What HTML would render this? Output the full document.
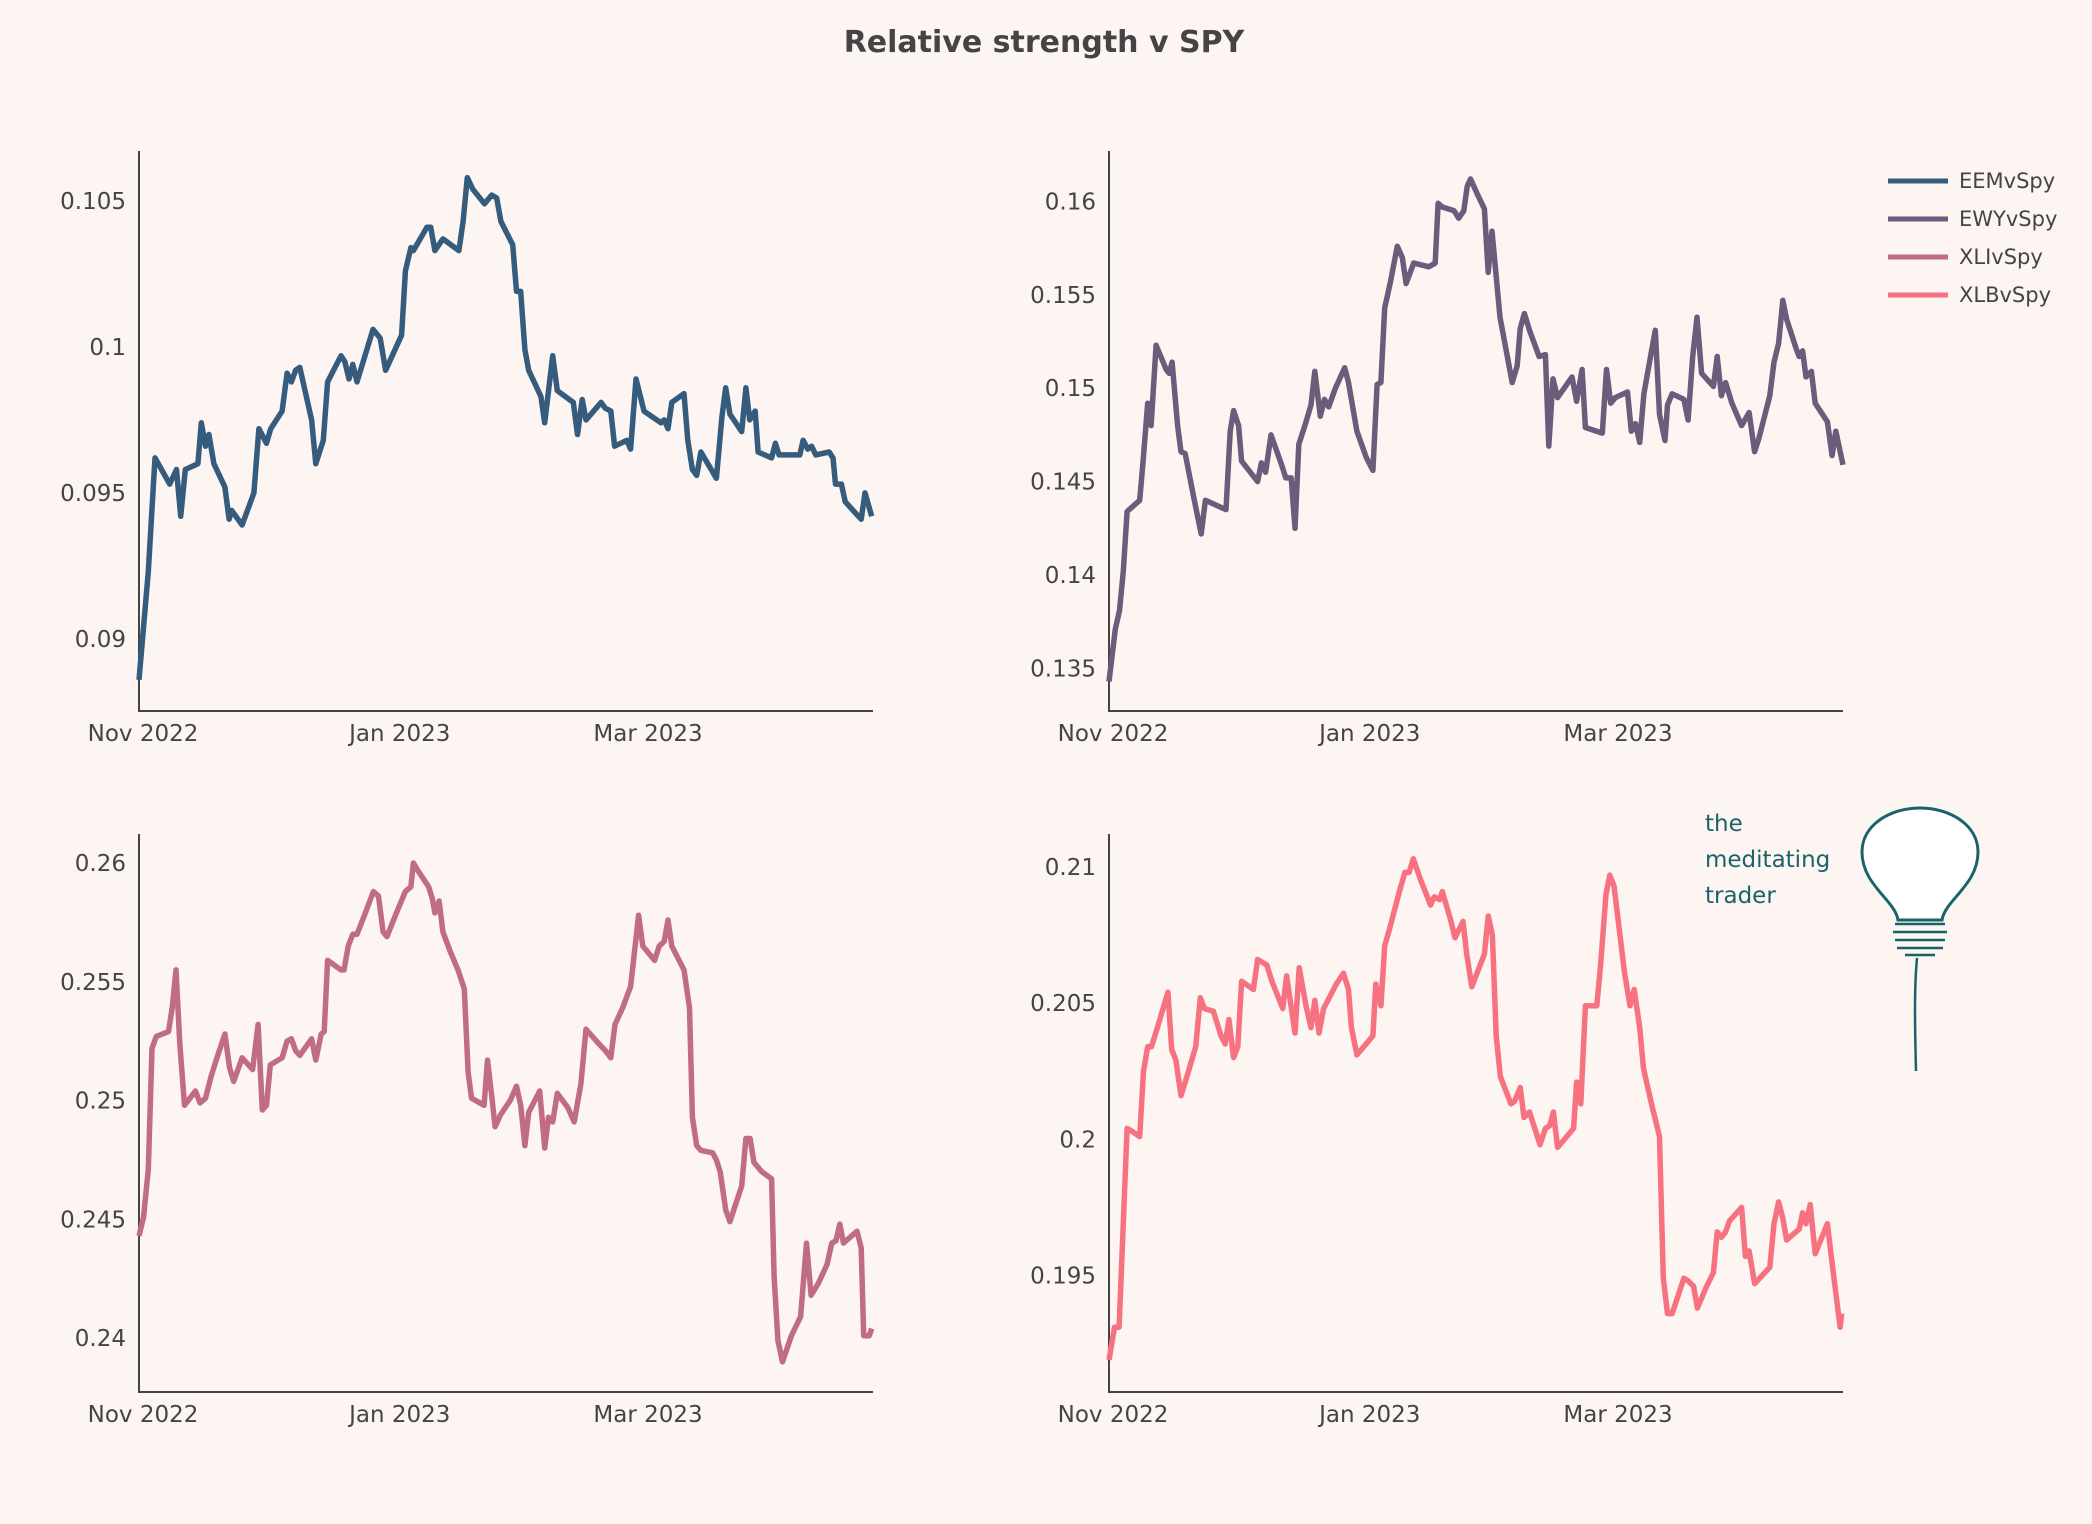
<!DOCTYPE html>
<html><head><meta charset="utf-8"><style>
html,body{margin:0;padding:0;background:#fdf5f2;}
svg{display:block;font-family:"DejaVu Sans","Liberation Sans",sans-serif;}
</style></head><body>
<svg id="chart" width="2092" height="1524" viewBox="0 0 2092 1524">
<rect x="0" y="0" width="2092" height="1524" fill="#fdf5f2"/>
<text x="1044" y="52" text-anchor="middle" font-size="30" font-weight="bold" fill="#444">Relative strength v SPY</text>
<g>
 <g><line x1="1888" y1="181" x2="1948" y2="181" stroke="#355c7d" stroke-width="5"/><text x="1959" y="188" font-size="21" fill="#444">EEMvSpy</text></g>
 <g><line x1="1888" y1="219" x2="1948" y2="219" stroke="#6c5b7b" stroke-width="5"/><text x="1959" y="226" font-size="21" fill="#444">EWYvSpy</text></g>
 <g><line x1="1888" y1="257" x2="1948" y2="257" stroke="#c06c84" stroke-width="5"/><text x="1959" y="264" font-size="21" fill="#444">XLIvSpy</text></g>
 <g><line x1="1888" y1="295" x2="1948" y2="295" stroke="#f67280" stroke-width="5"/><text x="1959" y="302" font-size="21" fill="#444">XLBvSpy</text></g>
</g>
<g>
 <text x="1705" y="831" font-size="23" fill="#1b636b">the</text>
 <text x="1705" y="867" font-size="23" fill="#1b636b">meditating</text>
 <text x="1705" y="903" font-size="23" fill="#1b636b">trader</text>
 <g fill="none" stroke="#1b636b" stroke-width="3">
  <path d="M1898,920 C1895,900 1862,885 1862,852 C1862,825 1890,808 1920,808 C1950,808 1978,825 1978,852 C1978,885 1945,900 1942,920 Z" fill="#ffffff"/>
  <path d="M1895,924 H1945 M1893,932 H1947 M1895,940 H1945 M1897,948 H1943 M1905,955 H1935" stroke-width="2.5"/>
  <path d="M1917,958 C1914,990 1915,1030 1916,1071" stroke-width="2.5"/>
 </g>
</g>
</svg>
<script>
// ---- data (day offsets from 2022-11-01, values) ----
const xTickLabels = ["Nov 2022", "Jan 2023", "Mar 2023"];
const xTickDays = [0, 61, 120];

const eemDays = [0,2.2,3.8,7.3,8.9,9.9,11,14,14.8,15.8,16.6,17.8,20.4,21.4,22,24.5,27.3,28.5,30.3,31.3,34,35.2,36.2,37.2,38.2,41,42,43.8,44.8,48,48.9,49.9,50.8,51.8,55.6,57.3,58.6,62.4,63.3,64.6,65.2,68.4,69.3,70.3,72.2,76,77,78,79.3,82.1,83.8,85,86,88.8,89.7,90.7,91.7,92.6,95.5,96.4,98.3,99.4,103.2,104.2,105.3,106.2,109.8,110.8,112.1,113,115.9,116.8,118.1,120,124,124.8,125.7,126.6,129.5,130.4,131.5,132.5,133.5,137.2,138.5,139.4,140.4,143.2,144.2,145.1,146.4,147.1,150.3,151.2,152.1,157,157.8,158.9,159.8,160.8,164,164.9,165.5,166.9,167.8,170.3,171.6,172.5,174.1];
const eemValues = [.0886,.0923,.0962,.0953,.0958,.0942,.0958,.0960,.0974,.0966,.0970,.0960,.0952,.0941,.0944,.0939,.0950,.0972,.0967,.0972,.0978,.0991,.0988,.0992,.0993,.0975,.0960,.0968,.0988,.0997,.0995,.0989,.0994,.0988,.1006,.1003,.0992,.1004,.1026,.1034,.1033,.1041,.1041,.1033,.1037,.1033,.1043,.1058,.1054,.1049,.1052,.1051,.1043,.1035,.1019,.1019,.0999,.0992,.0983,.0974,.0997,.0985,.0981,.0970,.0982,.0975,.0981,.0979,.0978,.0966,.0968,.0965,.0989,.0978,.0974,.0975,.0972,.0981,.0984,.0968,.0958,.0956,.0964,.0955,.0976,.0986,.0977,.0971,.0986,.0975,.0978,.0964,.0962,.0967,.0963,.0963,.0968,.0965,.0966,.0963,.0964,.0962,.0953,.0953,.0947,.0943,.0941,.0950,.0942];
const eemTicks = [0.09, 0.095, 0.1, 0.105];
const eemTickLabels = ["0.09", "0.095", "0.1", "0.105"];

const ewyDays = [0,1.5,2.5,3.4,4.3,7.3,8.1,9.2,10,11.2,13.6,14.3,15,16.3,17.1,18.1,20,21.9,22.9,27.8,28.8,29.6,30.8,31.5,35.3,36.2,37.2,38.5,41,42,43.3,44.2,45.1,46.7,48,48.9,50.2,51.2,52.2,53.8,56,56.9,58.9,61.1,62.7,63.7,64.6,65.5,66.8,68.5,69.7,70.6,72.4,76,77.5,78.2,79.2,82,83.1,84.3,85.1,85.9,87.5,89.2,90.1,91,92.9,95.8,97,97.7,98.7,99.9,102.2,103.7,104.5,105.5,106.6,110,111.1,112.4,113.2,117.2,118.2,119.2,120.3,123.2,124.1,125.1,126.1,127.1,128.6,129.8,130.8,132.1,132.7,133.8,136.6,137.6,138.7,139.7,140.8,143.6,144.5,145.5,146.5,148,150.3,152.1,153.4,154.4,157,158,159.1,160.1,161,163.3,164,164.8,165.6,166.9,167.8,170.7,171.8,172.7,174.4];
const ewyValues = [.1343,.1371,.1381,.1402,.1434,.1440,.1461,.1492,.1480,.1523,.1510,.1508,.1514,.1480,.1466,.1465,.1443,.1422,.1440,.1435,.1477,.1488,.1480,.1461,.1450,.1460,.1455,.1475,.1459,.1452,.1452,.1425,.1470,.1481,.1491,.1509,.1485,.1494,.1490,.1500,.1511,.1503,.1477,.1463,.1456,.1502,.1503,.1543,.1556,.1576,.1570,.1556,.1567,.1565,.1567,.1599,.1597,.1595,.1591,.1595,.1608,.1612,.1604,.1596,.1562,.1584,.1538,.1503,.1512,.1532,.1540,.1531,.1517,.1518,.1469,.1505,.1495,.1506,.1493,.1510,.1479,.1476,.1510,.1492,.1495,.1498,.1477,.1481,.1471,.1497,.1516,.1531,.1486,.1472,.1491,.1497,.1494,.1483,.1517,.1538,.1508,.1501,.1517,.1496,.1503,.1492,.1480,.1487,.1466,.1473,.1496,.1514,.1524,.1547,.1537,.1521,.1517,.1520,.1506,.1509,.1492,.1482,.1464,.1477,.1459];
const ewyTicks = [0.135, 0.14, 0.145, 0.15, 0.155, 0.16];
const ewyTickLabels = ["0.135", "0.14", "0.145", "0.15", "0.155", "0.16"];

const xliDays = [0,1.1,2.2,3.1,4.1,7,7.9,8.8,9.7,10.8,13.4,14.5,15.8,17.1,18.7,20.4,21.5,22.5,24.5,27,28.3,29.3,30.3,31.2,34,35.2,36.2,37.2,38.2,41,42,43.3,44,44.8,48,48.7,49.7,50.8,51.8,54,55.7,56.9,58,58.9,61.4,63.3,64.6,65.2,66.2,68.8,69.7,70.3,71.3,72.2,73.9,75.8,77.3,78.2,79,82,82.8,83.8,84.6,85.9,88.2,89.7,90.7,91.7,92.6,95.2,96.4,97.3,98.3,99.4,101.9,103.4,105,106.2,109.2,110.8,112.1,113.1,114.9,116.8,118.7,119.7,122.5,123.6,124.8,125.7,126.6,129.5,130.8,131.5,132.5,133.5,136.3,137.2,138.1,139.4,140.4,143.2,144.2,145.2,146.1,148,150.3,150.9,151.8,152.9,155,157.2,158.6,159.7,161.4,163.5,164.6,165.6,166.5,167.4,170.6,171.6,172.2,173.5,174.1];
const xliValues = [.2443,.2451,.2471,.2522,.2527,.2529,.2539,.2555,.2524,.2498,.2504,.2499,.2501,.2510,.2519,.2528,.2514,.2508,.2518,.2513,.2532,.2496,.2498,.2515,.2518,.2525,.2526,.2521,.2519,.2526,.2517,.2528,.2529,.2559,.2555,.2555,.2565,.2570,.2570,.2580,.2588,.2586,.2571,.2569,.2580,.2588,.2590,.2600,.2597,.2590,.2585,.2579,.2584,.2571,.2563,.2555,.2547,.2512,.2501,.2498,.2517,.2502,.2489,.2494,.2500,.2506,.2498,.2481,.2495,.2504,.2480,.2493,.2491,.2503,.2497,.2491,.2507,.2530,.2524,.2521,.2518,.2532,.2539,.2548,.2578,.2565,.2559,.2565,.2567,.2576,.2565,.2555,.2539,.2493,.2481,.2479,.2478,.2475,.2470,.2454,.2449,.2464,.2484,.2484,.2474,.2470,.2467,.2426,.2399,.2390,.2401,.2409,.2440,.2418,.2423,.2431,.2440,.2441,.2448,.2440,.2445,.2438,.2401,.2401,.2404];
const xliTicks = [0.24, 0.245, 0.25, 0.255, 0.26];
const xliTickLabels = ["0.24", "0.245", "0.25", "0.255", "0.26"];

const xlbDays = [0,1.3,2.4,4.3,5.4,7.3,8.2,9.2,10.1,11.7,14,14.9,15.9,17.1,18.7,20.6,21.7,22.7,24.8,26.6,27.6,28.5,29.6,30.6,31.5,34.3,35.3,37.5,38.7,41.3,42.2,44.2,45.2,46.8,48,48.9,49.9,51,54,55.7,56.9,57.6,58.9,62.7,63.4,64.6,65.5,66.8,69,70.3,71.3,72.3,74.1,75.4,76.4,77.3,78.6,79.2,81.1,82.2,84.1,85,86.2,89.2,90.1,91.1,92,93,95.5,96.4,97.7,98.6,99.9,102.4,103.7,104.7,105.6,106.6,110.4,111.1,112.1,113.2,115.9,116.8,118.1,119,120,122.5,123.8,124.8,126.1,127,128.9,130.8,131.7,132.7,133.8,136.6,137.6,138.9,139.8,142,143.6,144.5,145.5,146.5,147.4,150.3,151.2,152.1,153.4,157,158,159.1,160.1,161,164,164.8,165.6,166.6,167.8,170.7,171.7,173.7,174.1];
const xlbValues = [.1919,.1931,.1931,.2004,.2003,.2001,.2025,.2034,.2034,.2042,.2054,.2033,.2029,.2016,.2024,.2034,.2052,.2048,.2047,.2038,.2035,.2044,.2030,.2034,.2058,.2055,.2066,.2064,.2058,.2048,.2060,.2039,.2063,.2049,.2041,.2051,.2039,.2048,.2057,.2061,.2055,.2041,.2031,.2038,.2057,.2049,.2071,.2078,.2091,.2098,.2098,.2103,.2095,.2090,.2086,.2089,.2088,.2091,.2081,.2074,.2080,.2068,.2056,.2068,.2082,.2075,.2038,.2023,.2013,.2014,.2019,.2008,.2010,.1998,.2004,.2005,.2010,.1997,.2004,.2021,.2013,.2049,.2049,.2064,.2090,.2097,.2093,.2061,.2049,.2055,.2041,.2026,.2013,.2001,.1949,.1936,.1936,.1949,.1948,.1946,.1938,.1946,.1951,.1966,.1964,.1966,.1970,.1975,.1957,.1959,.1947,.1953,.1969,.1977,.1971,.1963,.1967,.1973,.1969,.1976,.1958,.1969,.1956,.1931,.1936];
const xlbTicks = [0.195, 0.2, 0.205, 0.21];
const xlbTickLabels = ["0.195", "0.2", "0.205", "0.21"];

const NS = "http://www.w3.org/2000/svg";
const svg = document.getElementById("chart");
function mk(tag, attrs, parent) {
  const e = document.createElementNS(NS, tag);
  for (const k in attrs) e.setAttribute(k, attrs[k]);
  parent.appendChild(e);
  return e;
}
function drawPanel(cfg) {
  const g = mk("g", {}, svg);
  
  
  const xScale = d => cfg.x0 + d / cfg.dMax * (cfg.x1 - cfg.x0);
  const yScale = v => cfg.yb - (v - cfg.vMin) / (cfg.vMax - cfg.vMin) * (cfg.yb - cfg.yt);
  const ya = mk("line", {x1: cfg.x0, y1: cfg.yt, x2: cfg.x0, y2: cfg.yb + 1, stroke: "#444", "stroke-width": 2}, g);
  
  
  const xa = mk("line", {x1: cfg.x0 - 1, y1: cfg.yb, x2: cfg.x1, y2: cfg.yb, stroke: "#444", "stroke-width": 2}, g);
  
  
  cfg.ticks.forEach((t, i) => {
    const tx = mk("text", {x: cfg.x0 - 13, y: yScale(t) + 8, "text-anchor": "end", "font-size": 23, fill: "#444"}, g);
    tx.textContent = cfg.tickLabels[i];
    
    
  });
  xTickDays.forEach((d, i) => {
    const tx = mk("text", {x: xScale(d) + 4, y: cfg.yb + 30, "text-anchor": "middle", "font-size": 23, fill: "#444"}, g);
    tx.textContent = xTickLabels[i];
    
    
  });
  const pts = cfg.days.map((d, i) => xScale(d).toFixed(1) + "," + yScale(cfg.values[i]).toFixed(1)).join(" ");
  const pl = mk("polyline", {points: pts, fill: "none", stroke: cfg.color, "stroke-width": 5.5, "stroke-linejoin": "round"}, g);
  
  
}
drawPanel({name: "eemvspy", x0: 139, x1: 873, yt: 151, yb: 711, dMax: 174.4, vMin: 0.08753, vMax: 0.10671, ticks: eemTicks, tickLabels: eemTickLabels, days: eemDays, values: eemValues, color: "#355c7d"});
drawPanel({name: "ewyvspy", x0: 1109, x1: 1843, yt: 151, yb: 711, dMax: 174.4, vMin: 0.13272, vMax: 0.1627, ticks: ewyTicks, tickLabels: ewyTickLabels, days: ewyDays, values: ewyValues, color: "#6c5b7b"});
drawPanel({name: "xlivspy", x0: 139, x1: 873, yt: 834, yb: 1392, dMax: 174.4, vMin: 0.23773, vMax: 0.26122, ticks: xliTicks, tickLabels: xliTickLabels, days: xliDays, values: xliValues, color: "#c06c84"});
drawPanel({name: "xlbvspy", x0: 1109, x1: 1843, yt: 834, yb: 1392, dMax: 174.4, vMin: 0.19072, vMax: 0.21121, ticks: xlbTicks, tickLabels: xlbTickLabels, days: xlbDays, values: xlbValues, color: "#f67280"});
</script>
</body></html>
